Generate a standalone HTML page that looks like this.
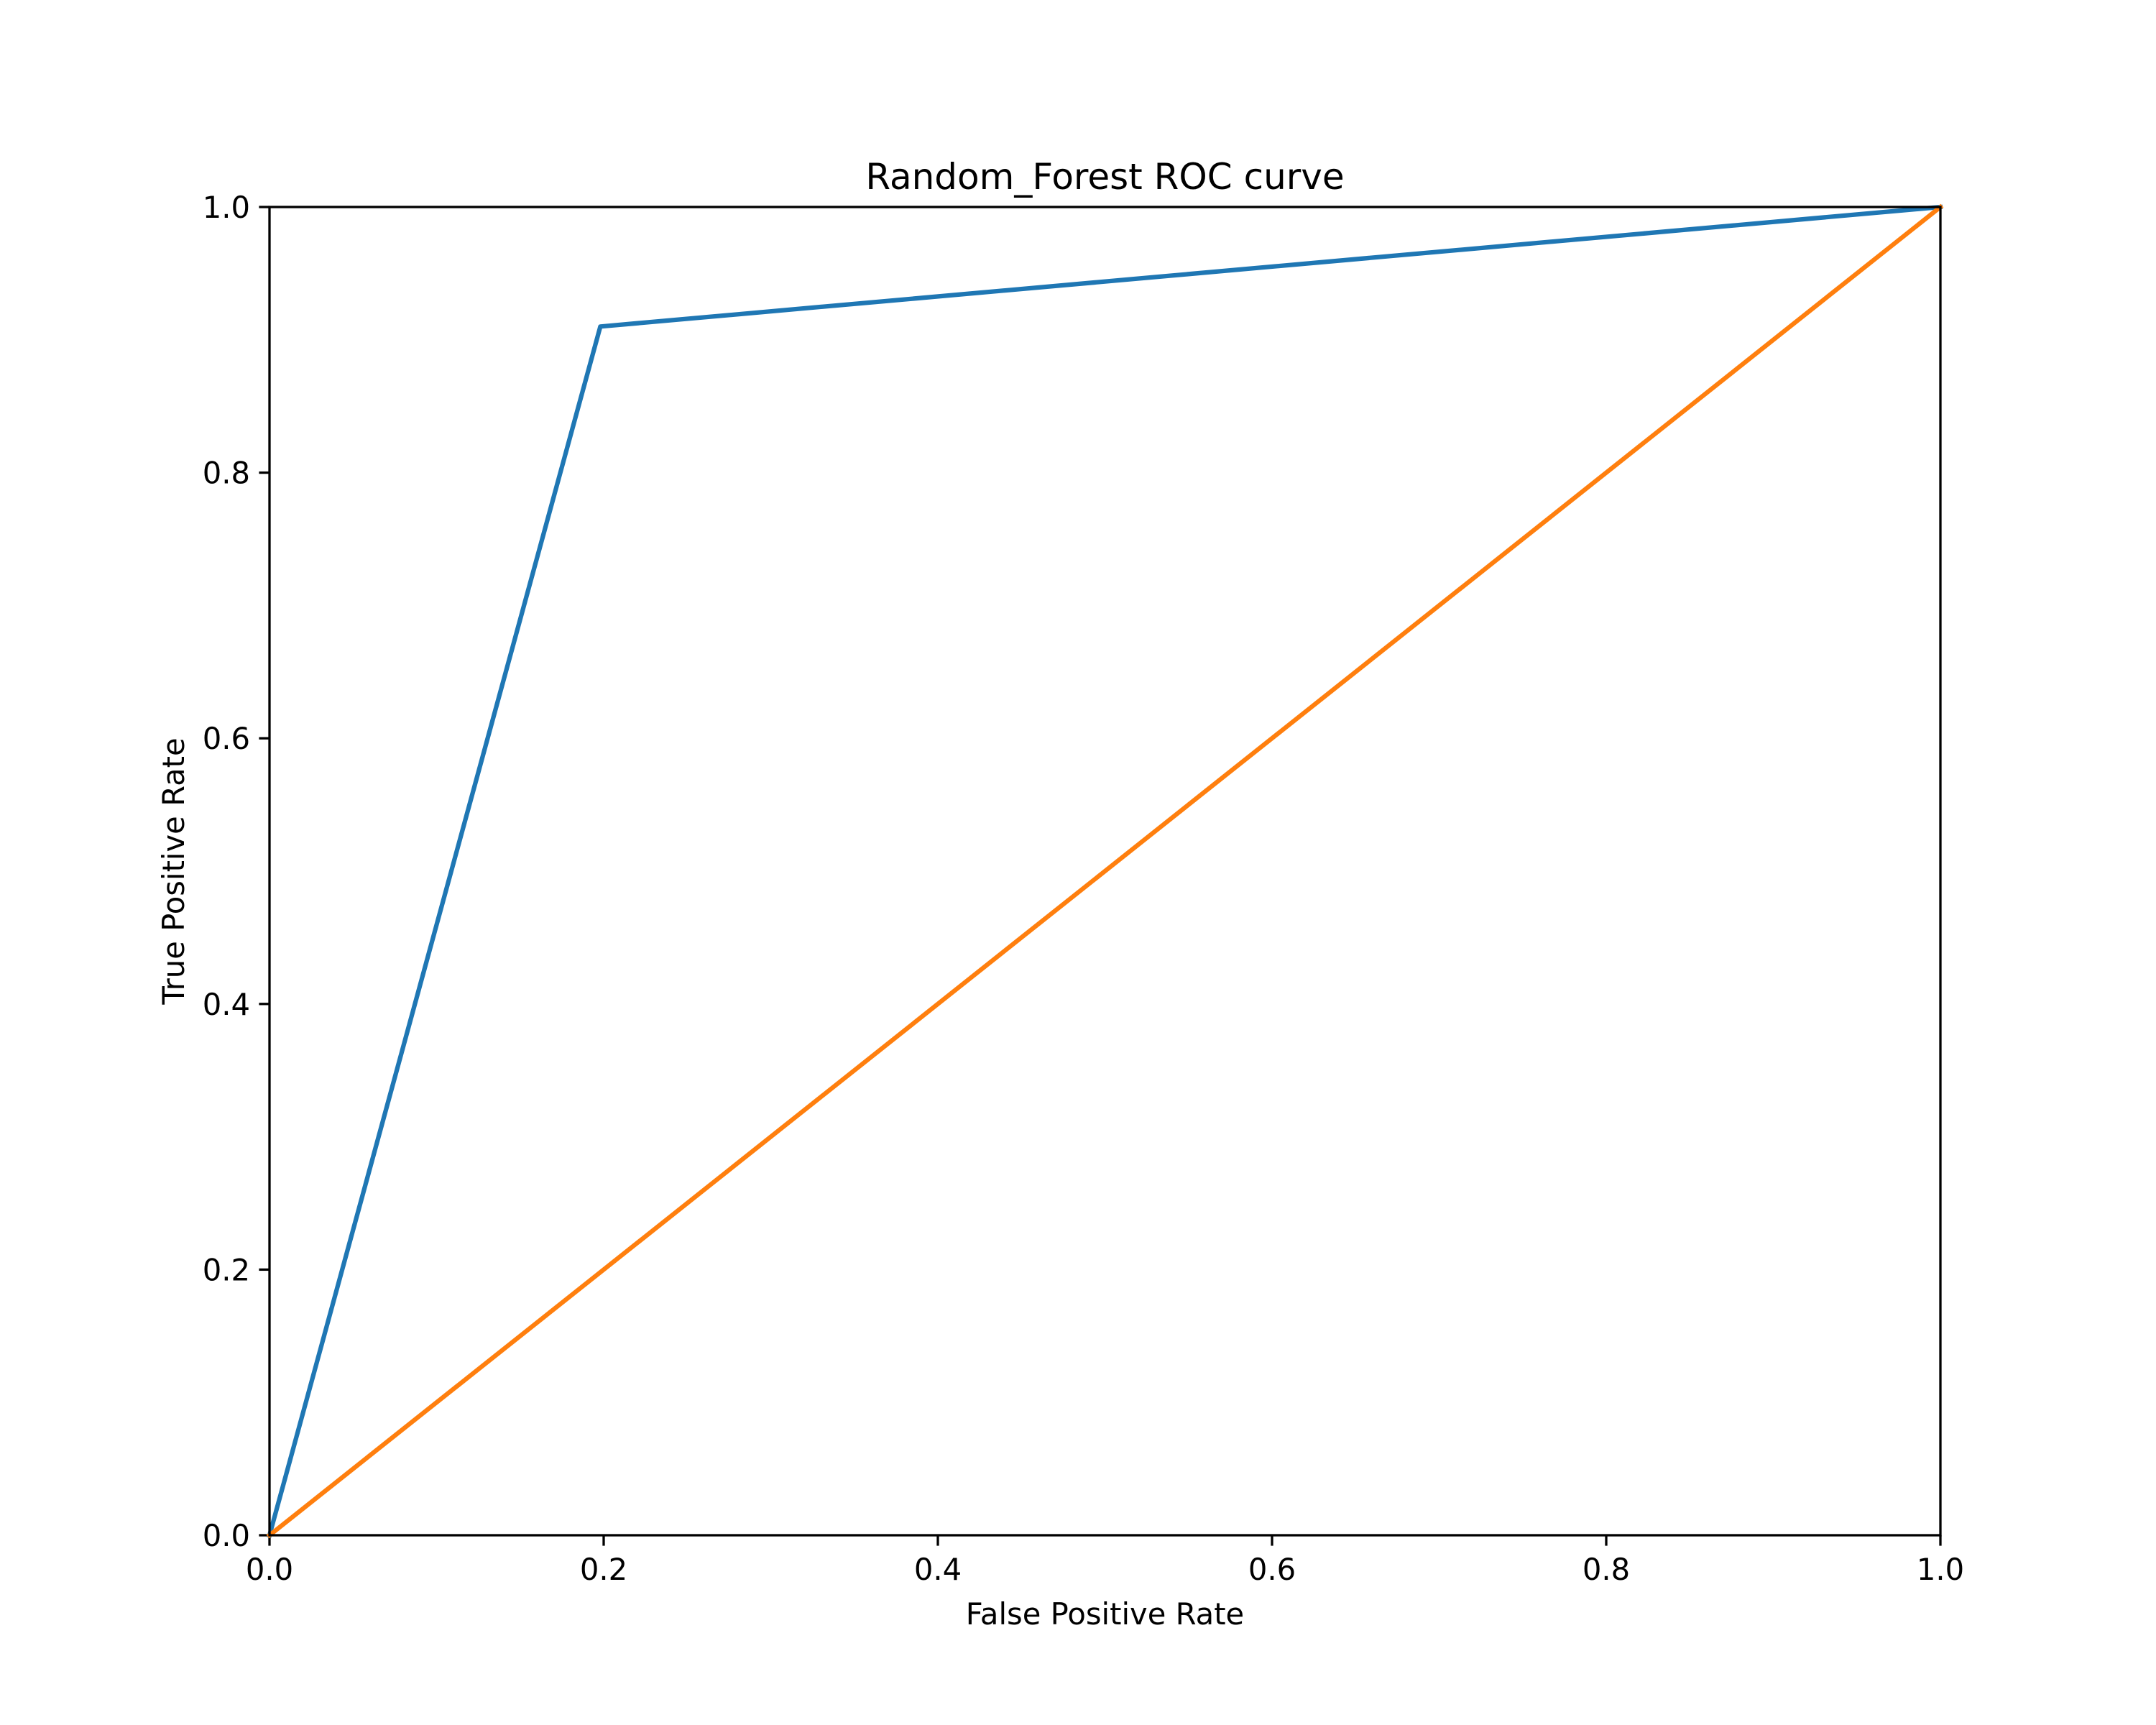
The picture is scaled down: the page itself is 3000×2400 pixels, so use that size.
<!DOCTYPE html>
<html><head><meta charset="utf-8"><style>body{margin:0;background:#fff}svg{display:block}text{font-family:"DejaVu Sans","Liberation Sans",sans-serif;fill:#000}</style></head>
<body>
<svg id="chart" width="3000" height="2400" viewBox="0 0 3000 2400" xmlns="http://www.w3.org/2000/svg">
<rect width="3000" height="2400" fill="#fff"/>
<g id="ticks"></g>
<g id="series"></g>
<rect x="375" y="288" width="2325" height="1848" fill="none" stroke="#000" stroke-width="3.3"/>
<text x="1537.5" y="263" font-size="50" text-anchor="middle">Random_Forest ROC curve</text>
<text x="1537.5" y="2260" font-size="41.7" text-anchor="middle">False Positive Rate</text>
<text transform="translate(256,1212) rotate(-90)" font-size="41.7" text-anchor="middle">True Positive Rate</text>
</svg>
<script>
const rocFpr = [0, 0.198, 1];
const rocTpr = [0, 0.910, 1];
const chanceFpr = [0, 1];
const chanceTpr = [0, 1];
const xTickLabels = ["0.0","0.2","0.4","0.6","0.8","1.0"];
const yTickLabels = ["0.0","0.2","0.4","0.6","0.8","1.0"];
const L=375,R=2700,T=288,B=2136;
const sx=v=>L+v*(R-L), sy=v=>B-v*(B-T);
const NS="http://www.w3.org/2000/svg";
const tg=document.getElementById('ticks'), sg=document.getElementById('series');
function mk(t,a,p){const e=document.createElementNS(NS,t);for(const k in a)e.setAttribute(k,a[k]);p.appendChild(e);return e;}
xTickLabels.forEach(s=>{const v=parseFloat(s),x=sx(v);
 const l=mk('line',{x1:x,x2:x,y1:B,y2:B+14.6,stroke:'#000','stroke-width':3.3},tg);
 
 
 const t=mk('text',{x:x,y:B+62,'font-size':41.7,'text-anchor':'middle'},tg);t.textContent=s;
 
 });
yTickLabels.forEach(s=>{const v=parseFloat(s),y=sy(v);
 const l=mk('line',{x1:L-14.6,x2:L,y1:y,y2:y,stroke:'#000','stroke-width':3.3},tg);
 
 
 const t=mk('text',{x:L-27,y:y+15,'font-size':41.7,'text-anchor':'end'},tg);t.textContent=s;
 
 });
function line(xs,ys,c,n){const p=mk('polyline',{points:xs.map((x,i)=>sx(x)+','+sy(ys[i])).join(' '),fill:'none',stroke:c,'stroke-width':6.25,'stroke-linejoin':'round','stroke-linecap':'square'},sg);
 
 }
line(rocFpr,rocTpr,'#1f77b4');

line(chanceFpr,chanceTpr,'#ff7f0e');

</script>
</body></html>
